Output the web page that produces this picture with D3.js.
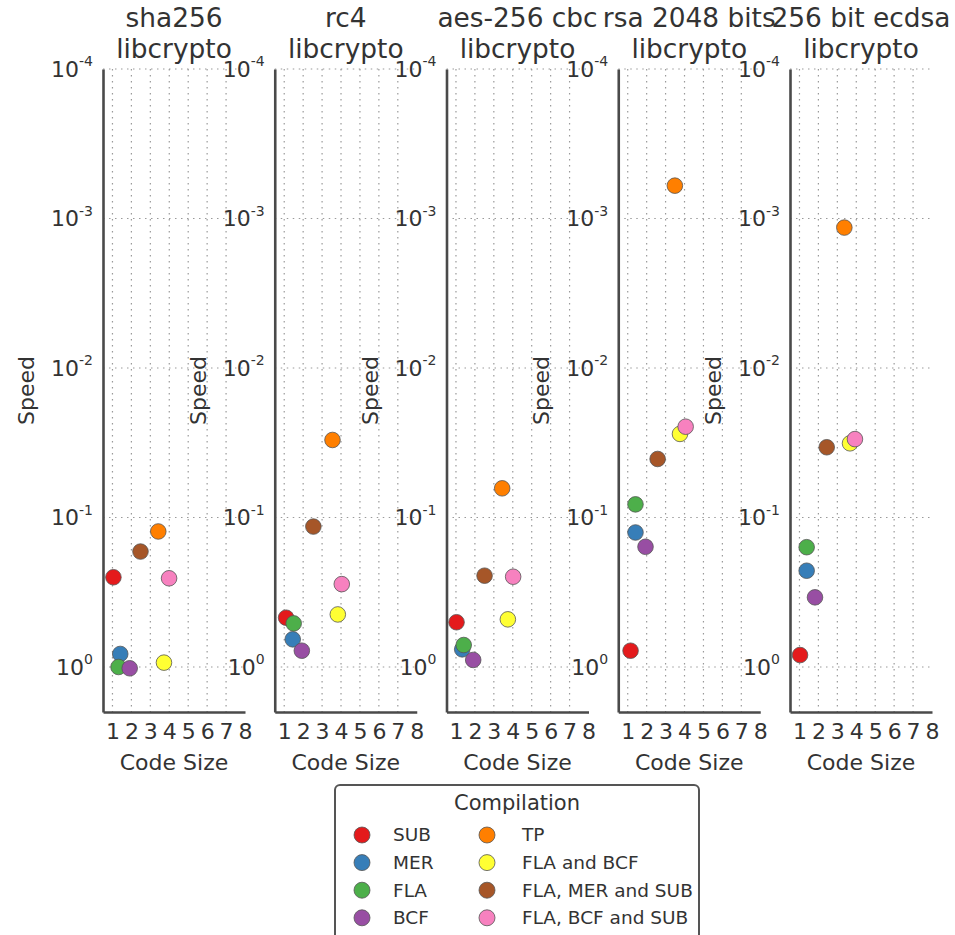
<!DOCTYPE html>
<html>
<head>
<meta charset="utf-8">
<script src="https://cdn.jsdelivr.net/npm/d3@7"></script>
<style>
  html, body { margin: 0; padding: 0; background: #fff; }
  svg { display: block; font-family: "DejaVu Sans", sans-serif; }
</style>
</head>
<body>
<svg id="chart" width="955" height="935"></svg>
<script>
// ---------------- data ----------------
const categories = ["SUB", "MER", "FLA", "BCF", "TP", "FLA and BCF", "FLA, MER and SUB", "FLA, BCF and SUB"];
const colors = ["#e41a1c", "#377eb8", "#4daf4a", "#984ea3", "#ff7f00", "#ffff33", "#a65628", "#f781bf"];
const panelTitles = ["sha256", "rc4", "aes-256 cbc", "rsa 2048 bits", "256 bit ecdsa"];
const panelSubtitle = "libcrypto";

// code size (x) and speed (y) per compilation, in category order
const sha256Size  = [1.05, 1.41, 1.32, 1.91, 3.42, 3.72, 2.48, 3.99];
const sha256Speed = [0.251, 0.818, 1.0, 1.02, 0.124, 0.935, 0.169, 0.255];
const rc4Size     = [1.10, 1.45, 1.50, 1.93, 3.55, 3.83, 2.54, 4.04];
const rc4Speed    = [0.468, 0.653, 0.511, 0.778, 0.0303, 0.445, 0.115, 0.279];
const aesSize     = [1.03, 1.33, 1.41, 1.91, 3.44, 3.74, 2.51, 4.02];
const aesSpeed    = [0.502, 0.762, 0.713, 0.897, 0.0638, 0.480, 0.245, 0.249];
const rsaSize     = [1.15, 1.41, 1.41, 1.94, 3.49, 3.76, 2.58, 4.06];
const rsaSpeed    = [0.778, 0.126, 0.0817, 0.157, 0.000603, 0.0276, 0.0406, 0.0247];
const ecdsaSize   = [1.03, 1.38, 1.38, 1.82, 3.37, 3.67, 2.44, 3.93];
const ecdsaSpeed  = [0.832, 0.227, 0.158, 0.342, 0.00115, 0.0319, 0.0339, 0.0299];

const panelSizes  = [sha256Size, rc4Size, aesSize, rsaSize, ecdsaSize];
const panelSpeeds = [sha256Speed, rc4Speed, aesSpeed, rsaSpeed, ecdsaSpeed];

const xTicks = [1, 2, 3, 4, 5, 6, 7, 8];
const yTicks = [1e-4, 1e-3, 1e-2, 1e-1, 1];
const yTickExponents = ["-4", "-3", "-2", "-1", "0"];
const xLabel = "Code Size";
const yLabel = "Speed";
const legendTitle = "Compilation";

// ---------------- layout ----------------
const svg = d3.select("#chart");
const panelLeft0 = 103, panelStep = 171.75, panelWidth = 142;
const plotTop = 69, plotBottom = 712;

const x = d3.scaleLinear().domain([0.5, 8]).range([0, panelWidth]);
const y = d3.scaleLog().domain([1e-4, 2]).range([plotTop, plotBottom]);

const spineColor = "#4a4a4a";
const gridColor = "#9a9a9a";

panelTitles.forEach((title, i) => {
  const g = svg.append("g").attr("transform", `translate(${panelLeft0 + i * panelStep},0)`);

  // grid
  g.append("g").selectAll("line")
    .data(xTicks.filter(t => t < 8))
    .join("line")
    .attr("x1", d => x(d)).attr("x2", d => x(d))
    .attr("y1", plotTop).attr("y2", plotBottom)
    .attr("stroke", gridColor).attr("stroke-width", 1.2)
    .attr("stroke-dasharray", "1.5,4.5");
  g.append("g").selectAll("line")
    .data(yTicks)
    .join("line")
    .attr("x1", 0).attr("x2", panelWidth)
    .attr("y1", d => y(d)).attr("y2", d => y(d))
    .attr("stroke", gridColor).attr("stroke-width", 1.2)
    .attr("stroke-dasharray", "1.5,4.5");

  // y axis
  const yAxis = g.append("g")
    .call(d3.axisLeft(y).tickValues(yTicks).tickSize(0).tickPadding(10).tickFormat(() => ""));
  yAxis.select(".domain").attr("stroke", spineColor).attr("stroke-width", 2.6);
  yAxis.selectAll(".tick text").each(function(d, k) {
    const t = d3.select(this);
    t.text(null)
      .attr("fill", "#333").attr("font-size", 22).attr("dy", "0.32em")
      .attr("font-family", "DejaVu Sans");
    t.append("tspan").text("10");
    t.append("tspan").text(yTickExponents[k])
      .attr("font-size", 14).attr("dy", "-0.75em");
  });

  // x axis
  const xAxis = g.append("g").attr("transform", `translate(0,${plotBottom})`)
    .call(d3.axisBottom(x).tickValues(xTicks).tickSize(0).tickPadding(11).tickFormat(d3.format("d")));
  xAxis.select(".domain").attr("stroke", spineColor).attr("stroke-width", 2.6);
  xAxis.selectAll(".tick text")
    .attr("fill", "#333").attr("font-size", 22).attr("font-family", "DejaVu Sans");

  // axis labels
  g.append("text")
    .attr("x", panelWidth / 2).attr("y", 770)
    .attr("text-anchor", "middle").attr("font-size", 22).attr("fill", "#333")
    .text(xLabel);
  g.append("text")
    .attr("transform", `translate(-69,${(plotTop + plotBottom) / 2}) rotate(-90)`)
    .attr("text-anchor", "middle").attr("font-size", 22).attr("fill", "#333")
    .text(yLabel);

  // title
  g.append("text")
    .attr("x", panelWidth / 2).attr("y", 27)
    .attr("text-anchor", "middle").attr("font-size", 26.4).attr("fill", "#333")
    .text(title);
  g.append("text")
    .attr("x", panelWidth / 2).attr("y", 58)
    .attr("text-anchor", "middle").attr("font-size", 26.4).attr("fill", "#333")
    .text(panelSubtitle);

  // points
  const pts = categories.map((c, k) => ({ c, k, sx: panelSizes[i][k], sp: panelSpeeds[i][k] }));
  g.append("g").selectAll("circle")
    .data(pts)
    .join("circle")
    .attr("cx", d => x(d.sx))
    .attr("cy", d => y(d.sp))
    .attr("r", 7.8)
    .attr("fill", d => colors[d.k])
    .attr("stroke", "#555").attr("stroke-width", 0.8);
});

// ---------------- legend ----------------
const lg = svg.append("g").attr("transform", "translate(335,785)");
lg.append("rect")
  .attr("x", 0).attr("y", 0).attr("width", 364).attr("height", 170)
  .attr("rx", 5).attr("ry", 5)
  .attr("fill", "#fff").attr("stroke", "#555").attr("stroke-width", 2);
lg.append("text")
  .attr("x", 182).attr("y", 25)
  .attr("text-anchor", "middle").attr("font-size", 21).attr("fill", "#333")
  .text(legendTitle);
const colX = [27, 152];
const textX = [58, 187];
const rowY0 = 50, rowStep = 27.6;
categories.forEach((c, k) => {
  const col = Math.floor(k / 4), row = k % 4;
  const cy = rowY0 + row * rowStep;
  lg.append("circle")
    .attr("cx", colX[col]).attr("cy", cy).attr("r", 8)
    .attr("fill", colors[k]).attr("stroke", "#555").attr("stroke-width", 0.8);
  lg.append("text")
    .attr("x", textX[col]).attr("y", cy).attr("dy", "0.35em")
    .attr("font-size", 18.5).attr("fill", "#333")
    .text(c);
});
</script>
</body>
</html>
